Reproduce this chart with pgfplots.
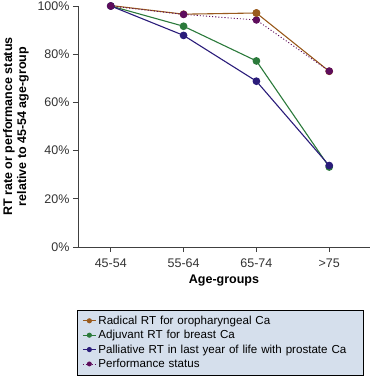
\documentclass[border=0pt]{standalone}
\usepackage{pgfplots}
\pgfplotsset{compat=1.18}
\usepackage{fontspec}
\setmainfont{Liberation Sans}
\definecolor{cbrown}{HTML}{9A5B1E}
\definecolor{cgreen}{HTML}{2B7A3B}
\definecolor{cnavy}{HTML}{2A1C7A}
\definecolor{cpurple}{HTML}{5E0D5C}
\definecolor{legfill}{HTML}{D5DFEC}
\begin{document}
\begin{tikzpicture}
\useasboundingbox (-78bp,-134bp) rectangle (293bp,247bp);
\begin{axis}[
  at={(0,0)}, anchor=south west,
  scale only axis, width=292bp, height=241bp,
  xmin=-0.45, xmax=3.56, ymin=0, ymax=100,
  axis x line=bottom, axis y line=left,
  axis line style={-, black!75, line width=0.8pt},
  xtick={0,1,2,3}, xticklabels={45-54,55-64,65-74,>75},
  ytick={0,20,40,60,80,100},
  yticklabel={\pgfmathprintnumber{\tick}\%},
  tick style={black!75, line width=0.8pt},
  tick align=outside, major tick length=5bp,
  /pgf/number format/assume math mode=true,
  ticklabel style={font=\fontsize{12.5bp}{14bp}\selectfont, text=black!80},
  xticklabel style={yshift=-3bp},
  xlabel={\textbf{Age-groups}},
  ylabel={\textbf{RT rate or performance status}\\\textbf{relative to 45-54 age-group}},
  ylabel style={align=center, font=\fontsize{12.5bp}{14bp}\selectfont, yshift=2bp},
  xlabel style={font=\fontsize{12.5bp}{14bp}\selectfont, yshift=-1bp},
  legend style={at={(axis description cs:-0.003,-0.26)}, anchor=north west,
    draw=black, fill=legfill, font=\fontsize{11.6bp}{13bp}\selectfont,
    inner xsep=5bp, inner ysep=4bp, row sep=0.5bp,
    legend cell align=left, text width=258bp},
  legend image code/.code={\draw[#1, mark=none] (4bp,0bp) -- (17bp,0bp); \draw[#1, solid, mark repeat=1, mark phase=1, mark size=2pt] plot coordinates {(10.5bp,0bp)};},
  every axis plot/.append style={line width=1.1pt, mark=*, mark size=3.3pt},
]
\addplot[color=cbrown, mark options={fill=cbrown, draw=cbrown}] coordinates {(0,100.2) (1,96.6) (2,97.1) (3,72.9)};
\addlegendentry{Radical RT for oropharyngeal Ca}
\addplot[color=cgreen, mark options={fill=cgreen, draw=cgreen}] coordinates {(0,100) (1,91.6) (2,77.2) (3,33.2)};
\addlegendentry{Adjuvant RT for breast Ca}
\addplot[color=cnavy, mark options={fill=cnavy, draw=cnavy}] coordinates {(0,100) (1,87.8) (2,68.8) (3,33.8)};
\addlegendentry{Palliative RT in last year of life with prostate Ca}
\addplot[color=cpurple, dotted, line width=0.9pt, mark options={fill=cpurple, draw=cpurple, solid}] coordinates {(0,100) (1,96.5) (2,94.2) (3,73)};
\addlegendentry{Performance status}
\addplot[color=cbrown, only marks, mark options={fill=cbrown, draw=cbrown}, forget plot] coordinates {(0,100.2) (2,97.1)};
\end{axis}
\end{tikzpicture}
\end{document}
